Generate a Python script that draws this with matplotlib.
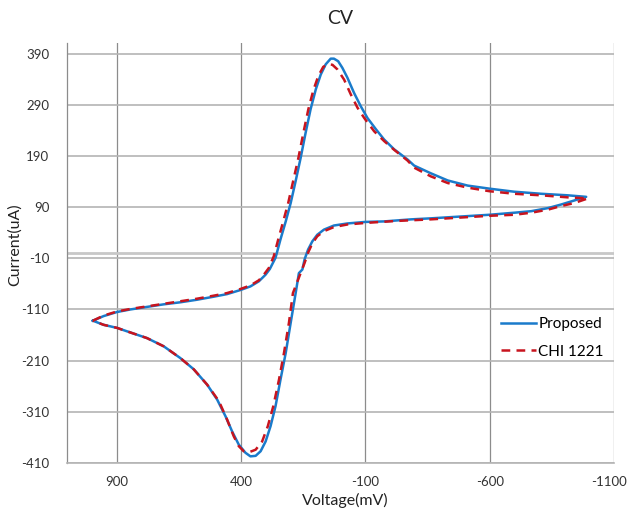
import matplotlib
matplotlib.use("Agg")
import matplotlib.pyplot as plt
import matplotlib.transforms as mtransforms

plt.rcParams['font.family'] = ['Lato', 'DejaVu Sans']

# Proposed (blue): forward scan (+1000 -> -1000) then reverse scan back to +1000
prop_v = [997, 954, 900, 846, 779, 712, 645, 578, 510, 457, 403, 363, 329, 302, 285, 262, 242, 221,
          201, 181, 161, 141, 121, 100, 80, 60, 40, 27, 10, -7, -27, -54, -81, -108, -142, -175,
          -215, -269, -296, -363, -431, -511, -599, -699, -807, -914, -988,
          -941, -887, -834, -767, -699, -599, -498, -363, -283, -229, -175, -99, -27, 27, 67,
          94, 114, 131, 145, 154, 168, 181, 201, 221, 242, 262, 282, 302, 322, 342, 363, 383,
          410, 437, 463, 497, 537, 591, 645, 712, 779, 846, 900, 954, 997]
prop_i = [-132, -123, -115, -110, -105, -100, -96, -91, -85, -80, -72, -65, -55, -42, -31, -9, 27, 62,
          98, 141, 186, 235, 281, 320, 349, 369, 380, 380, 375, 362, 343, 313, 287, 264, 242, 222,
          203, 183, 171, 156, 142, 132, 126, 120, 116, 113, 110,
          103, 95, 88, 82, 79, 75, 72, 68, 66, 64, 62, 61, 58, 54, 46,
          36, 23, 7, -12, -32, -39, -78, -136, -195, -247, -299, -338, -368, -387, -396, -397, -390,
          -374, -348, -319, -286, -257, -227, -205, -182, -166, -155, -146, -140, -132]

# CHI 1221 (red dashed)
chi_v = [997, 954, 900, 846, 779, 712, 645, 578, 510, 457, 403, 363, 329, 309, 289, 269, 251, 231,
         211, 191, 170, 150, 130, 110, 90, 70, 51, 33, 13, -14, -41, -68, -95, -135, -175,
         -215, -269, -296, -363, -431, -511, -599, -699, -807, -914, -995,
         -941, -887, -834, -767, -699, -599, -498, -363, -229, -162, -99, -27, 27, 67,
         94, 114, 131, 145, 161, 192, 208, 228, 248, 271, 293, 316, 342, 369, 390,
         410, 430, 457, 490, 537, 591, 645, 712, 779, 846, 900, 954, 997]
chi_i = [-132, -122, -114, -109, -104, -99, -94, -89, -83, -78, -70, -63, -53, -42, -29, -6, 27, 62,
         98, 141, 186, 235, 281, 318, 346, 364, 369, 368, 359, 339, 310, 284, 264, 238, 219,
         202, 181, 167, 150, 137, 128, 121, 116, 113, 109, 107,
         98, 92, 85, 79, 75, 73, 70, 66, 63, 61, 59, 56, 51, 43,
         33, 19, 1, -19, -39, -78, -136, -195, -247, -299, -338, -368, -384, -389, -387,
         -377, -358, -325, -289, -257, -227, -205, -182, -166, -155, -146, -140, -132]

x_ticks = [900, 400, -100, -600, -1100]
y_ticks = [390, 290, 190, 90, -10, -110, -210, -310, -410]

fig = plt.figure(figsize=(6.3, 5.16), dpi=100)
ax = fig.add_axes([0.1068, 0.1027, 0.8678, 0.8134])

ax.set_xlim(1100, -1100)
ax.set_ylim(-410, 410)
ax.set_xticks(x_ticks)
ax.set_yticks(y_ticks)
ax.set_xticklabels([str(t) for t in x_ticks])
ax.set_yticklabels([str(t) for t in y_ticks])
ax.tick_params(axis='both', length=0, labelsize=9.5, colors='#333333')
ax.tick_params(axis='y', pad=13)
ax.tick_params(axis='x', pad=9)

# nudge the last x tick label so it stays inside the canvas
last = ax.get_xticklabels()[-1]
last.set_transform(last.get_transform() +
                   mtransforms.ScaledTranslation(-5 / 100, 0, fig.dpi_scale_trans))

ax.grid(axis='x', color='#8C8C8C', lw=0.9)
ax.grid(axis='y', color='#B4B4B4', lw=1.2)
ax.axhline(0, color='#C8C8C8', lw=2.0, zorder=1)
for s in ['top', 'right']:
    ax.spines[s].set_visible(False)
ax.spines['left'].set_color('#8C8C8C')
ax.spines['left'].set_linewidth(0.9)
ax.spines['bottom'].set_color('#B4B4B4')
ax.spines['bottom'].set_linewidth(1.2)
ax.set_axisbelow(True)

ax.plot(prop_v, prop_i, color='#1A7BCB', lw=1.8, label='Proposed', zorder=3,
        solid_joinstyle='round')
ax.plot(chi_v, chi_i, color='#C8141E', lw=1.8, dashes=(3.5, 2.5), label='CHI 1221', zorder=4)

ax.set_title('CV', fontsize=14, pad=14, color='#222222')
ax.set_xlabel('Voltage(mV)', fontsize=11.5, color='#222222')
ax.xaxis.set_label_coords(0.508, -0.072)
ax.set_ylabel('Current(uA)', fontsize=11.5, color='#222222')
ax.yaxis.set_label_coords(-0.083, 0.52)

ax.legend(loc='upper left', bbox_to_anchor=(0.793, 0.348), frameon=False, fontsize=11,
          handlelength=2.3, handletextpad=0.15, labelspacing=0.9, borderpad=0, borderaxespad=0)

fig.savefig('out.png', dpi=100)
